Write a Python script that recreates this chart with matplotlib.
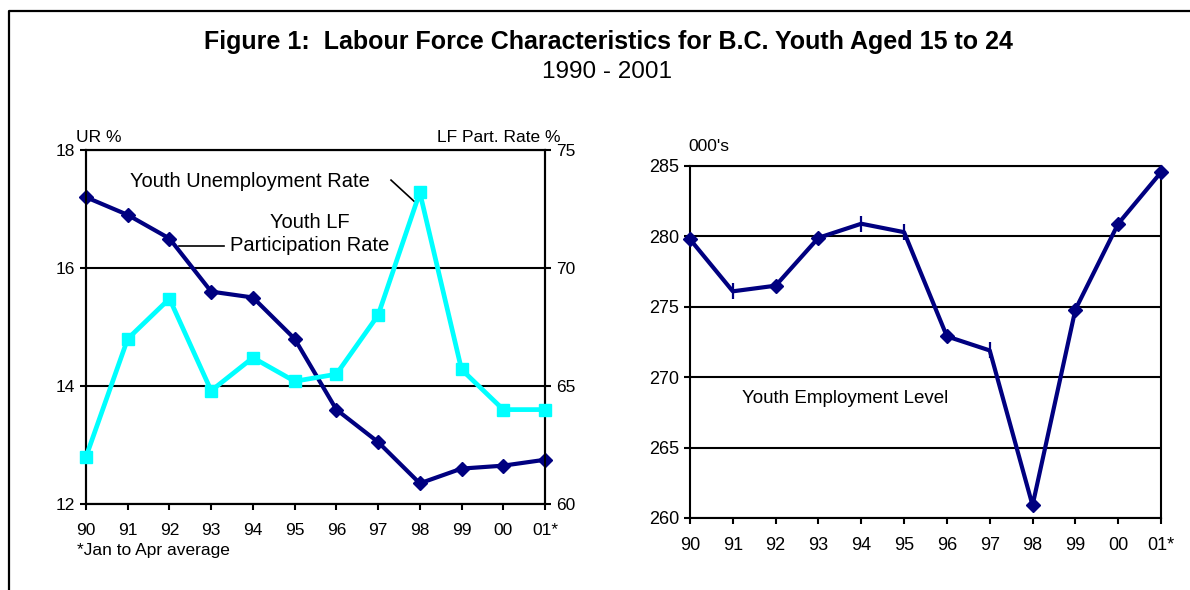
import matplotlib
matplotlib.use("Agg")
import matplotlib.pyplot as plt
from matplotlib.lines import Line2D

plt.rcParams['font.family'] = ['Liberation Sans', 'DejaVu Sans']

years = ["90", "91", "92", "93", "94", "95", "96", "97", "98", "99", "00", "01*"]
unemployment_rate = [17.2, 16.9, 16.5, 15.6, 15.5, 14.8, 13.6, 13.05, 12.35, 12.6, 12.65, 12.75]
participation_rate = [62.0, 67.0, 68.7, 64.8, 66.2, 65.2, 65.5, 68.0, 73.2, 65.7, 64.0, 64.0]
employment_level = [279.8, 276.1, 276.5, 279.9, 280.9, 280.3, 272.9, 271.9, 260.9, 274.8, 280.9, 284.55]
ur_ticks = [12, 14, 16, 18]
lf_ticks = [60, 65, 70, 75]
emp_ticks = [260, 265, 270, 275, 280, 285]

NAVY = "#000080"
CYAN = "#00FFFF"
x = list(range(len(years)))

fig = plt.figure(figsize=(11.9, 5.9), dpi=100)
W, H = 1190, 590

def style(ax, size):
    for s in ax.spines.values():
        s.set_linewidth(1.5)
        s.set_color("black")
    ax.tick_params(axis='both', direction='out', length=4, width=1.5, labelsize=size, pad=4)
    ax.grid(axis='y', color='black', linewidth=1.5)
    ax.set_axisbelow(True)

# ---------- left chart ----------
ax1 = fig.add_axes([86 / W, 1 - 504 / H, (545 - 86) / W, (504 - 150) / H])
style(ax1, 12.5)
ax1.set_xlim(0, 11)
ax1.set_ylim(12, 18)
ax1.set_yticks(ur_ticks)
ax1.set_xticks(x)
ax1.set_xticklabels(years)
ax1.tick_params(axis='x', pad=10)
ax1.plot(x, unemployment_rate, color=NAVY, linewidth=3.0, marker='D', markersize=7,
         clip_on=False, zorder=5)

ax2 = ax1.twinx()
ax2.set_ylim(60, 75)
ax2.set_yticks(lf_ticks)
for s in ax2.spines.values():
    s.set_linewidth(1.5)
ax2.tick_params(axis='y', direction='out', length=4, width=1.5, labelsize=12.5, pad=4)
ax2.plot(x, participation_rate, color=CYAN, linewidth=3.4, marker='s', markersize=9,
         clip_on=False, zorder=4)

ax1.text(-0.022, 1.034, "UR %", transform=ax1.transAxes, fontsize=12.5, ha='left', va='center')
ax1.text(1.033, 1.034, "LF Part. Rate %", transform=ax1.transAxes, fontsize=12.5, ha='right', va='center')

ax1.text(3.93, 17.46, "Youth Unemployment Rate", fontsize=14.5, ha='center', va='center')
ax1.plot([7.31, 7.91], [17.49, 17.10], color='black', linewidth=1.2)
ax1.text(5.37, 16.58, "Youth LF\nParticipation Rate", fontsize=14.5, ha='center', va='center',
         linespacing=1.25)
ax1.plot([2.23, 3.31], [16.37, 16.37], color='black', linewidth=1.2)

fig.text(77 / W, 1 - 550 / H, "*Jan to Apr average", fontsize=12.5, ha='left', va='center')

# ---------- right chart ----------
ax3 = fig.add_axes([690 / W, 1 - 518 / H, (1161 - 690) / W, (518 - 166) / H])
style(ax3, 13)
ax3.set_xlim(0, 11)
ax3.set_ylim(260, 285)
ax3.set_yticks(emp_ticks)
ax3.set_xticks(x)
ax3.set_xticklabels(years)
ax3.tick_params(axis='x', pad=10)
diamond_idx = [0, 2, 3, 6, 8, 9, 10, 11]
tick_idx = [1, 4, 5, 7]
ax3.plot(x, employment_level, color=NAVY, linewidth=3.0, zorder=5, clip_on=False)
ax3.plot(x, employment_level, linestyle='none', marker='D', markersize=7, color=NAVY,
         markevery=diamond_idx, zorder=6, clip_on=False)
ax3.plot(x, employment_level, linestyle='none', marker='|', markersize=11, markeredgewidth=1.6,
         color=NAVY, markevery=tick_idx, zorder=6, clip_on=False)
ax3.text(-0.004, 1.054, "000's", transform=ax3.transAxes, fontsize=12.5, ha='left', va='center')
ax3.text(1.21, 268.5, "Youth Employment Level", fontsize=13.5, ha='left', va='center')

# ---------- titles and frame ----------
fig.text(608 / W, 1 - 42 / H, "Figure 1:  Labour Force Characteristics for B.C. Youth Aged 15 to 24",
         fontsize=18, fontweight='bold', ha='center', va='center')
fig.text(607 / W, 1 - 72 / H, "1990 - 2001", fontsize=17.5, ha='center', va='center')

fig.add_artist(Line2D([8.5 / W, 8.5 / W, 1.02], [-0.02, 1 - 11 / H, 1 - 11 / H],
                      transform=fig.transFigure, color='black', linewidth=1.6))

fig.savefig("out.png", dpi=100, facecolor='white')
